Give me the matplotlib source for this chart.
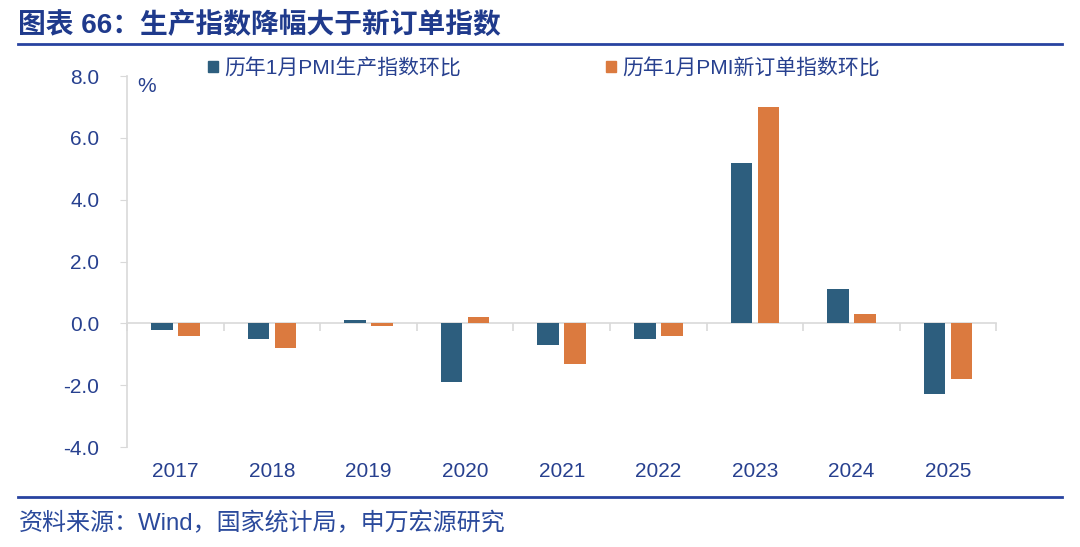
import matplotlib
matplotlib.use("Agg")
import matplotlib.pyplot as plt
from matplotlib.patches import Patch
from matplotlib.lines import Line2D
import numpy as np

plt.rcParams['font.family'] = ['Liberation Sans', 'Noto Sans CJK SC', 'DejaVu Sans']

years = ["2017", "2018", "2019", "2020", "2021", "2022", "2023", "2024", "2025"]
production = [-0.2, -0.5, 0.1, -1.9, -0.7, -0.5, 5.2, 1.1, -2.3]
new_orders = [-0.4, -0.8, -0.1, 0.2, -1.3, -0.4, 7.0, 0.3, -1.8]
yticks = [-4.0, -2.0, 0.0, 2.0, 4.0, 6.0, 8.0]

blue = '#2D5E7E'
orange = '#DB7A3F'
navy = '#1F3A8C'
txt = '#27408F'
grey = '#D9D9D9'

fig = plt.figure(figsize=(10.8, 5.47), dpi=100)
ax = fig.add_axes([0.1176, 0.1828, 0.805, 0.6782])

x = np.arange(len(years))
w = 0.225
ax.bar(x - 0.14, production, w, color=blue, zorder=3)
ax.bar(x + 0.14, new_orders, w, color=orange, zorder=3)

ax.set_xlim(-0.5, len(years) - 0.5)
ax.set_ylim(-4, 8)
ax.set_yticks(yticks)
ax.set_yticklabels(["%.1f" % v for v in yticks], fontsize=15, color=txt)
ax.tick_params(axis='y', length=5, color=grey, pad=15)

# zero line with category boundary ticks
ax.spines['bottom'].set_position(('data', 0))
ax.spines['bottom'].set_color(grey)
ax.spines['bottom'].set_linewidth(1.2)
ax.set_xticks(np.arange(len(years) + 1) - 0.5)
ax.set_xticklabels([])
ax.tick_params(axis='x', length=6, color=grey, width=1.2)
for s in ['top', 'right']:
    ax.spines[s].set_visible(False)
ax.spines['left'].set_color(grey)
ax.spines['left'].set_linewidth(1.2)

for i, yr in enumerate(years):
    ax.text(i, -0.065, yr, transform=ax.get_xaxis_transform(), ha='center',
            va='center', fontsize=15, color=txt)

ax.text(0.012, 0.972, '%', transform=ax.transAxes, fontsize=15, color=txt,
        ha='left', va='center')

handles = [Patch(color=blue), Patch(color=orange)]
labels = ['历年1月PMI生产指数环比', '历年1月PMI新订单指数环比']
fig.legend(handles, labels, loc='center left', bbox_to_anchor=(0.1755, 0.876), ncol=2,
           frameon=False, fontsize=15, handlelength=0.45, handleheight=0.45,
           handletextpad=0.3, columnspacing=7.0, labelcolor=txt)

fig.text(0.017, 0.953, '图表 66：生产指数降幅大于新订单指数', fontsize=20, fontweight='bold',
         color=navy, ha='left', va='center')
fig.add_artist(Line2D([0.017, 0.983], [0.919, 0.919], transform=fig.transFigure,
                      color='#2843A0', linewidth=2))
fig.add_artist(Line2D([0.017, 0.983], [0.091, 0.091], transform=fig.transFigure,
                      color='#2843A0', linewidth=2))
fig.text(0.017, 0.043, '资料来源：Wind，国家统计局，申万宏源研究', fontsize=17.3,
         color='#2B4A9C', ha='left', va='center')

fig.savefig('out.png', dpi=100)
